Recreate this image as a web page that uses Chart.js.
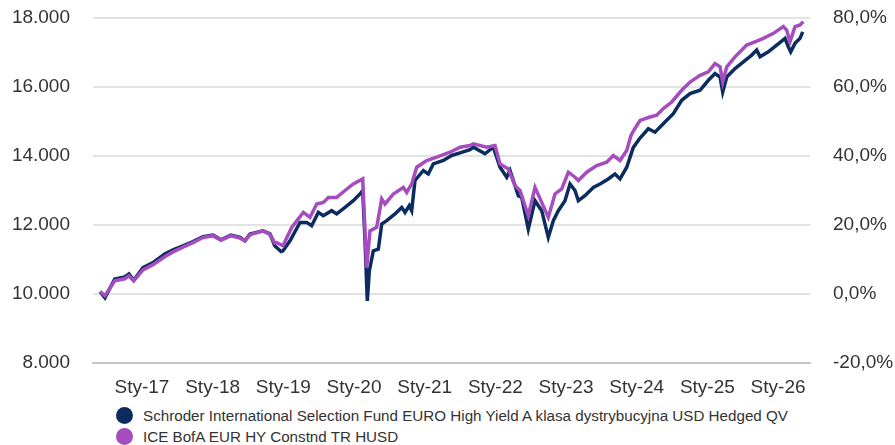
<!DOCTYPE html>
<html>
<head>
<meta charset="utf-8">
<script src="https://cdn.jsdelivr.net/npm/chart.js@4"></script>
<style>
  html, body { margin: 0; padding: 0; background: #fff; }
  #wrap { position: relative; width: 895px; height: 445px; }
  #chart { position: absolute; left: 0; top: 0; }
  #legend {
    position: absolute; left: 116px; top: 405px;
    font-family: "Liberation Sans", Arial, sans-serif; font-size: 15.2px; color: #333;
  }
  #legend div { height: 21px; line-height: 21px; white-space: nowrap; }
  #legend span.dot {
    display: inline-block; width: 17px; height: 17px; border-radius: 50%;
    vertical-align: -3px; margin-right: 10px;
  }
</style>
</head>
<body>
<div id="wrap">
  <canvas id="chart" width="895" height="400"></canvas>
  <div id="legend"></div>
</div>
<script>
(function () {
    'use strict';

    // x positions are decimal years
    var fundDates = [
        2016.406, 2016.476, 2016.614, 2016.755, 2016.816, 2016.883, 2017.014, 2017.156,
        2017.321, 2017.439, 2017.580, 2017.722, 2017.863, 2018.005, 2018.118, 2018.259,
        2018.387, 2018.457, 2018.528, 2018.712, 2018.811, 2018.878, 2018.967, 2018.995,
        2019.094, 2019.236, 2019.331, 2019.401, 2019.495, 2019.565, 2019.684, 2019.755,
        2019.873, 2019.990, 2020.085, 2020.123, 2020.156, 2020.188, 2020.217, 2020.273,
        2020.344, 2020.392, 2020.463, 2020.580, 2020.675, 2020.722, 2020.782, 2020.816,
        2020.863, 2020.981, 2021.051, 2021.122, 2021.264, 2021.382, 2021.500, 2021.641,
        2021.688, 2021.853, 2021.971, 2022.066, 2022.161, 2022.207, 2022.325, 2022.373,
        2022.466, 2022.561, 2022.656, 2022.749, 2022.820, 2022.891, 2022.985, 2023.056,
        2023.127, 2023.174, 2023.268, 2023.386, 2023.481, 2023.598, 2023.693, 2023.764,
        2023.859, 2023.952, 2024.047, 2024.164, 2024.259, 2024.400, 2024.518, 2024.637,
        2024.755, 2024.896, 2025.014, 2025.108, 2025.179, 2025.217, 2025.274, 2025.391,
        2025.509, 2025.628, 2025.698, 2025.745, 2025.862, 2025.981, 2026.099, 2026.145,
        2026.179, 2026.240, 2026.311, 2026.349
    ];
    var fundValues = [
        10067, 9890, 10435, 10495, 10580, 10400, 10765, 10910,
        11160, 11280, 11395, 11520, 11660, 11705, 11570, 11705,
        11640, 11540, 11735, 11830, 11745, 11400, 11230, 11250,
        11540, 12075, 12075, 11980, 12365, 12270, 12415, 12320,
        12510, 12705, 12900, 13000, 11540, 9800, 10670, 11250,
        11300, 12030, 12125, 12320, 12510, 12365, 12560, 12415,
        13290, 13580, 13480, 13770, 13870, 14015, 14090, 14180,
        14255, 14065, 14255, 13675, 13385, 13580, 12850, 12800,
        11880, 12705, 12415, 11640, 12125, 12415, 12705, 13190,
        13000, 12705, 12850, 13090, 13190, 13335, 13480, 13335,
        13675, 14250, 14520, 14790, 14690, 14985, 15225, 15615,
        15810, 15905, 16195, 16390, 16290, 15855, 16290, 16535,
        16730, 16925, 17070, 16875, 17020, 17215, 17410, 17165,
        17020, 17265, 17410, 17600
    ];

    var indexDates = [
        2016.406, 2016.476, 2016.614, 2016.755, 2016.816, 2016.883, 2017.014, 2017.156,
        2017.321, 2017.439, 2017.580, 2017.722, 2017.863, 2018.005, 2018.118, 2018.259,
        2018.387, 2018.457, 2018.528, 2018.712, 2018.811, 2018.878, 2018.906, 2018.995,
        2019.118, 2019.283, 2019.377, 2019.472, 2019.567, 2019.637, 2019.755, 2019.873,
        2019.990, 2020.123, 2020.179, 2020.226, 2020.321, 2020.392, 2020.439, 2020.557,
        2020.698, 2020.746, 2020.816, 2020.887, 2021.028, 2021.170, 2021.358, 2021.500,
        2021.641, 2021.688, 2021.877, 2021.995, 2022.066, 2022.183, 2022.278, 2022.349,
        2022.466, 2022.561, 2022.656, 2022.749, 2022.844, 2022.939, 2023.033, 2023.127,
        2023.174, 2023.292, 2023.434, 2023.575, 2023.669, 2023.764, 2023.859, 2023.920,
        2023.976, 2024.047, 2024.188, 2024.283, 2024.377, 2024.495, 2024.637, 2024.755,
        2024.896, 2025.014, 2025.108, 2025.179, 2025.217, 2025.274, 2025.391, 2025.557,
        2025.674, 2025.792, 2025.934, 2026.075, 2026.122, 2026.169, 2026.240, 2026.311,
        2026.358
    ];
    var indexValues = [
        10067, 9950, 10380, 10440, 10530, 10380, 10700, 10850,
        11080, 11220, 11360, 11490, 11640, 11690, 11560, 11690,
        11620, 11540, 11720, 11830, 11730, 11480, 11490, 11400,
        11930, 12365, 12220, 12610, 12655, 12800, 12800, 13000,
        13190, 13335, 10765, 11830, 11930, 12755, 12610, 12900,
        13090, 12945, 13190, 13675, 13870, 13965, 14110, 14255,
        14305, 14355, 14255, 14305, 13770, 13625, 13140, 13000,
        12270, 13090, 12655, 12220, 12900, 13045, 13530, 13385,
        13290, 13530, 13725, 13820, 14015, 13870, 14160, 14600,
        14800, 15030, 15130, 15180, 15375, 15565, 15905, 16145,
        16340, 16440, 16680, 16585, 16145, 16585, 16875, 17215,
        17310, 17410, 17555, 17750, 17650, 17310, 17750, 17800,
        17895
    ];

    var yearTicks = [2017, 2018, 2019, 2020, 2021, 2022, 2023, 2024, 2025, 2026];
    var yearLabels = ['Sty-17', 'Sty-18', 'Sty-19', 'Sty-20', 'Sty-21',
                      'Sty-22', 'Sty-23', 'Sty-24', 'Sty-25', 'Sty-26'];

    var seriesNames = [
        'Schroder International Selection Fund EURO High Yield A klasa dystrybucyjna USD Hedged QV',
        'ICE BofA EUR HY Constnd TR HUSD'
    ];
    var NAVY = '#0b2c5f';
    var PURPLE = '#a54cbf';
    var FONT = '"Liberation Sans", Arial, sans-serif';

    function toPoints(xs, ys) {
        return xs.map(function (x, i) { return { x: x, y: ys[i] }; });
    }

    function fmtThousands(v) {
        return String(v).replace(/\B(?=(\d{3})+(?!\d))/g, '.');
    }

    // pin axis width; drop the label-overflow padding so the plot top is set by layout.padding
    function fixWidth(w) {
        return function (axis) {
            axis.width = w;
            axis.paddingTop = 0;
            axis.paddingBottom = 0;
        };
    }

    new Chart(document.getElementById('chart'), {
        type: 'line',
        data: {
            datasets: [{
                label: seriesNames[0],
                data: toPoints(fundDates, fundValues),
                borderColor: NAVY,
                borderWidth: 3.5,
                pointRadius: 0,
                tension: 0,
                order: 1,
                yAxisID: 'y'
            }, {
                label: seriesNames[1],
                data: toPoints(indexDates, indexValues),
                borderColor: PURPLE,
                borderWidth: 3.5,
                pointRadius: 0,
                tension: 0,
                order: 0,
                yAxisID: 'y'
            }]
        },
        options: {
            responsive: false,
            animation: false,
            layout: { padding: { top: 18, left: 0, right: 0, bottom: 0 } },
            plugins: { legend: { display: false }, tooltip: { enabled: false } },
            scales: {
                x: {
                    type: 'linear',
                    min: 2016.307,
                    max: 2026.452,
                    afterBuildTicks: function (axis) {
                        axis.ticks = yearTicks.map(function (v) { return { value: v }; });
                    },
                    afterFit: function (axis) { axis.height = 37; },
                    ticks: {
                        autoSkip: false,
                        maxRotation: 0,
                        padding: 13,
                        color: '#333',
                        font: { family: FONT, size: 19 },
                        callback: function (v) {
                            var i = yearTicks.indexOf(v);
                            return i >= 0 ? yearLabels[i] : '';
                        }
                    },
                    grid: { display: false, drawTicks: false },
                    border: { display: true, color: '#c8c8c8', width: 2 }
                },
                y: {
                    position: 'left',
                    min: 8000,
                    max: 18000,
                    afterFit: fixWidth(93),
                    ticks: {
                        stepSize: 2000,
                        padding: 23,
                        color: '#333',
                        font: { family: FONT, size: 19 },
                        callback: function (v) { return fmtThousands(v); }
                    },
                    grid: { color: '#e3e3e3', lineWidth: 2, drawTicks: false },
                    border: { display: false }
                },
                y2: {
                    position: 'right',
                    min: -20,
                    max: 80,
                    afterFit: fixWidth(85),
                    ticks: {
                        stepSize: 20,
                        padding: 23,
                        color: '#333',
                        font: { family: FONT, size: 19 },
                        callback: function (v) { return v.toFixed(1).replace('.', ',') + '%'; }
                    },
                    grid: { display: false, drawTicks: false },
                    border: { display: false }
                }
            }
        }
    });

    var legend = document.getElementById('legend');
    [NAVY, PURPLE].forEach(function (c, i) {
        var row = document.createElement('div');
        var dot = document.createElement('span');
        dot.className = 'dot';
        dot.style.background = c;
        row.appendChild(dot);
        row.appendChild(document.createTextNode(seriesNames[i]));
        legend.appendChild(row);
    });
})();
</script>
</body>
</html>
